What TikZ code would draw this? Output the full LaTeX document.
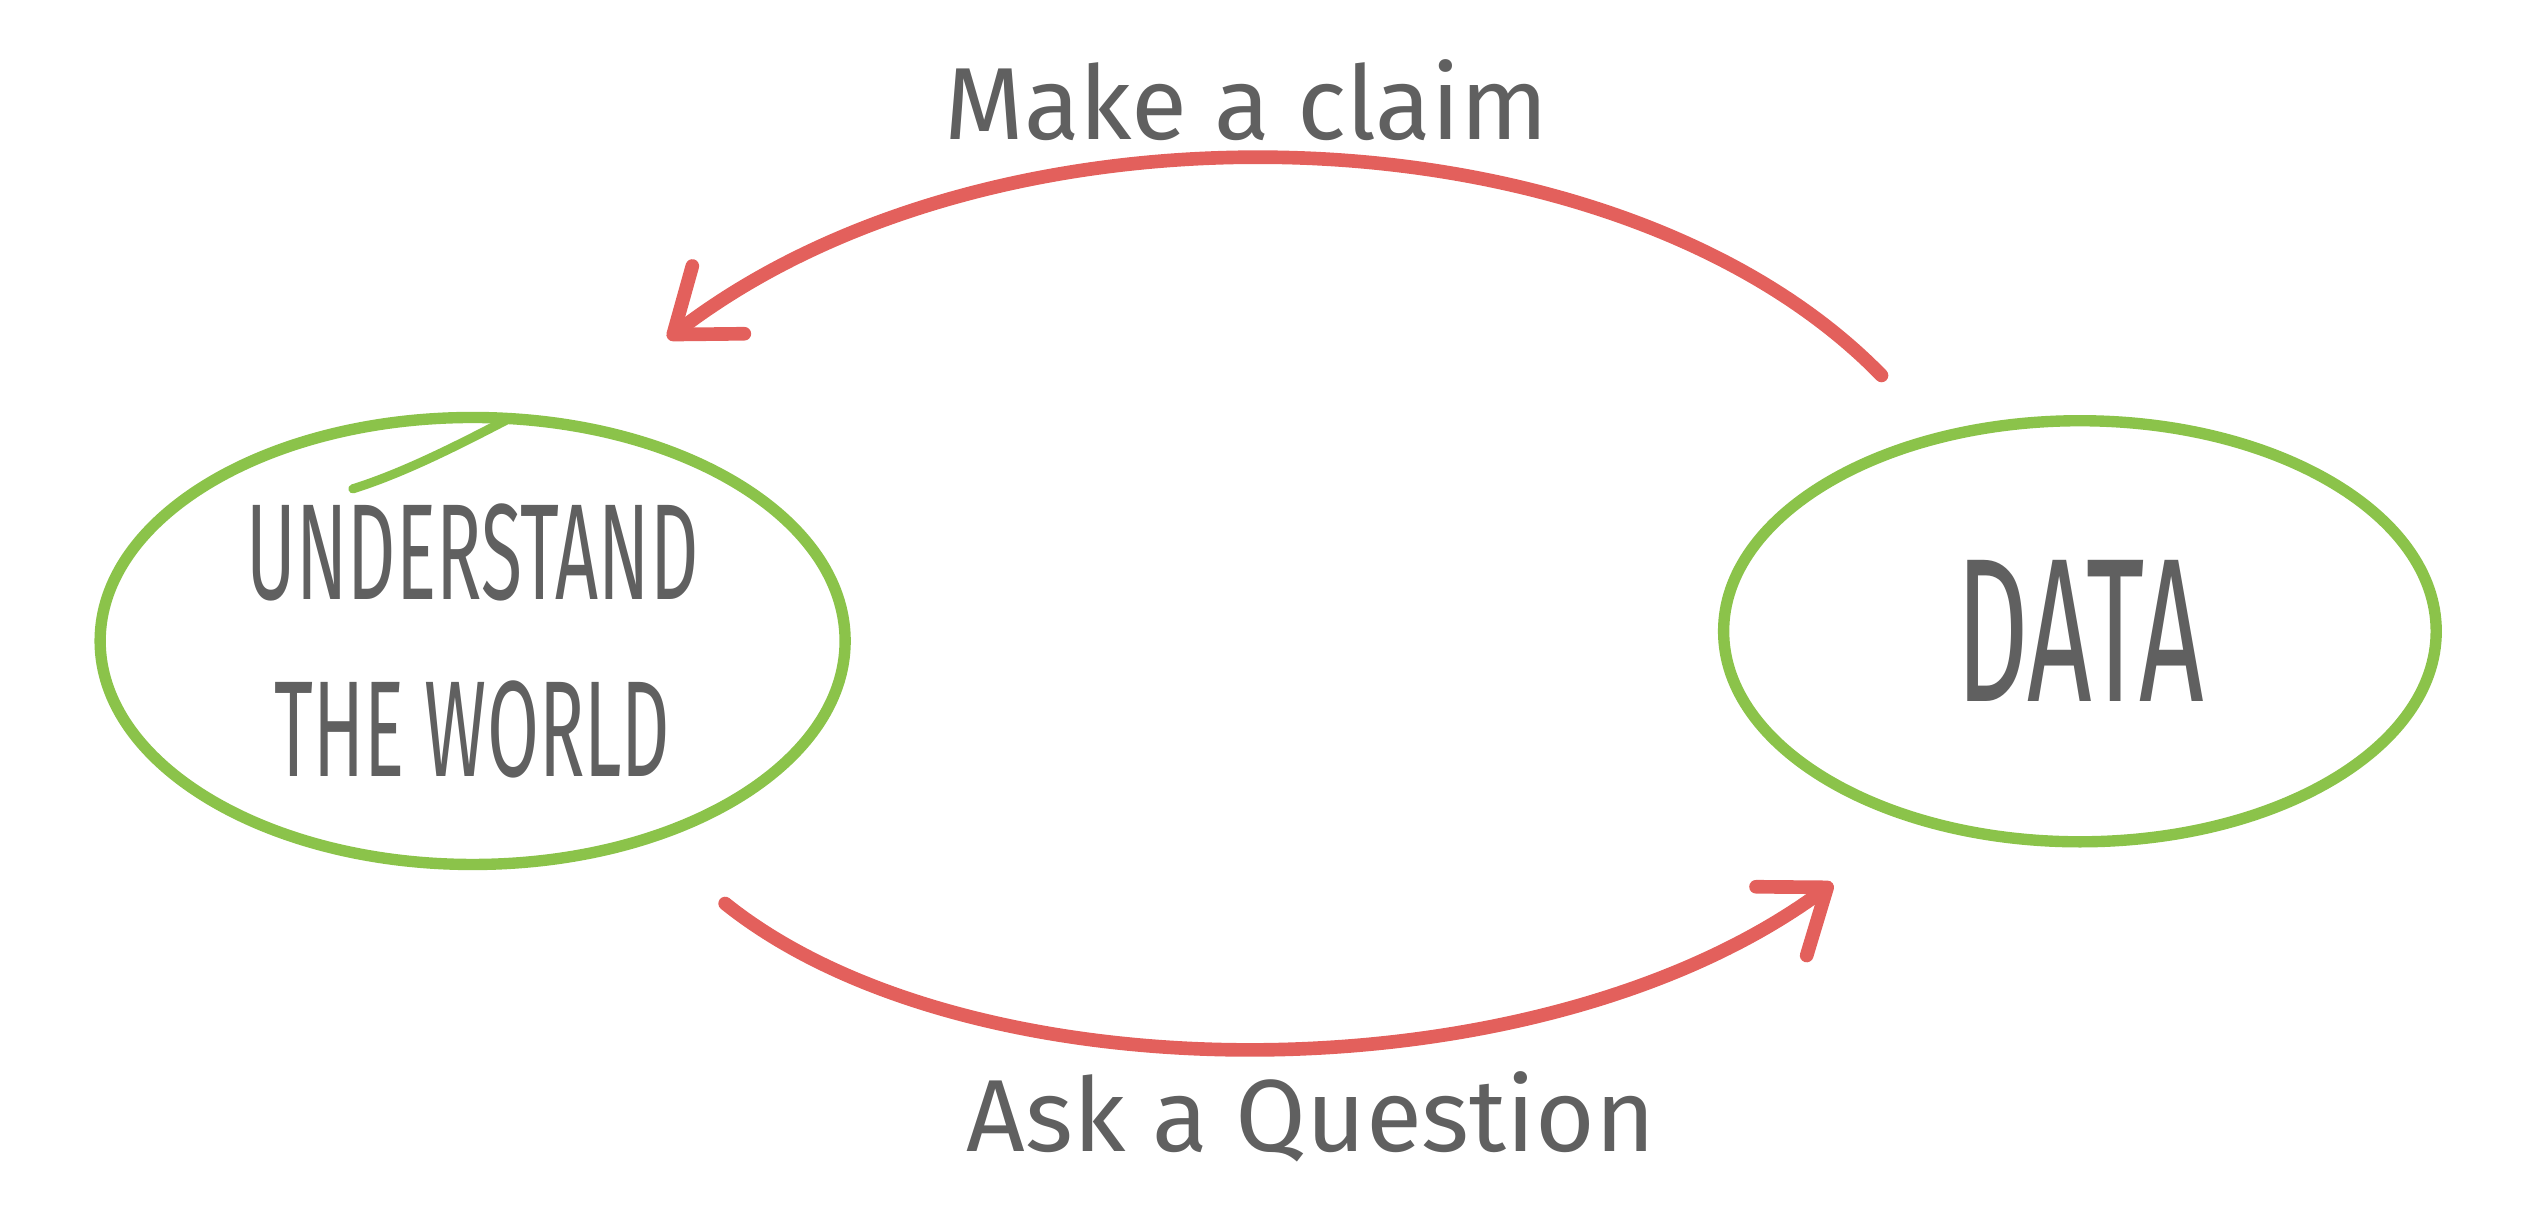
\documentclass[tikz,border=0pt]{standalone}
\usepackage{fontspec}
\newfontfamily\handfont{Fira Sans}
\newfontfamily\tallfont[FakeStretch=0.55]{Fira Sans}
\usetikzlibrary{shapes,arrows.meta,positioning,calc}
\definecolor{ideagreen}{RGB}{139,195,74}
\definecolor{arrowred}{RGB}{227,96,92}
\definecolor{inkgray}{RGB}{96,96,96}

\begin{document}
\begin{tikzpicture}[
    x=0.01cm, y=-0.01cm,
    blob/.style={ellipse, draw=ideagreen, line width=2pt, inner sep=0pt, text=inkgray, align=center},
    arrow/.style={-{Straight Barb[length=10pt,width=15pt,round]}, draw=arrowred, line width=2.4pt, line cap=round},
    tag/.style={text=inkgray, font=\handfont\fontsize{18}{22}\selectfont}
]
    \useasboundingbox (0,0) rectangle (1568,748);

    % The two ideas
    \node[blob, minimum width=4.6cm, minimum height=2.76cm, font=\tallfont\fontsize{24}{31}\selectfont] (world) at (292,396) {UNDERSTAND\\THE WORLD};
    \node[blob, minimum width=4.4cm, minimum height=2.6cm, font=\tallfont\fontsize{36}{40}\selectfont] (data) at (1285,390) {DATA};
    \draw[ideagreen, line width=1.6pt, line cap=round] (218,302) .. controls (250,292) and (285,274) .. ($(world.north)+(23,4)$);

    % Arrows
    \draw[arrow] ($(world.-46)+(38,40)$) .. controls (600,680) and (950,680) .. ($(data.226)+(-41,40)$);
    \draw[arrow] ($(data.128)+(-28,-37)$) .. controls (1000,65) and (620,50) .. ($(world.57)+(35,-55)$);

    % Labels
    \node[tag] (question) at (810,690) {Ask a Question};
    \node[tag] (claim) at (770,62) {Make a claim};
\end{tikzpicture}
\end{document}
